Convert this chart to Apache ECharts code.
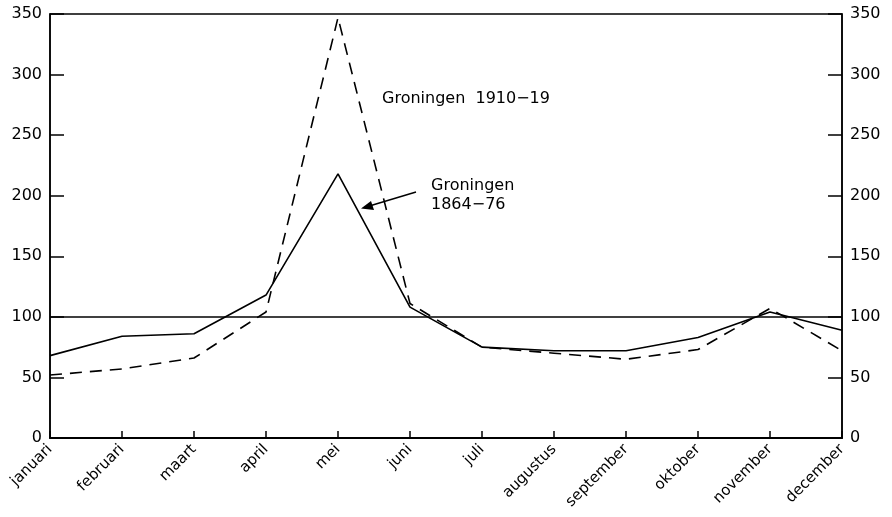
<!DOCTYPE html>
<html>
<head>
<meta charset="utf-8">
<script src="https://cdn.jsdelivr.net/npm/echarts@6/dist/echarts.min.js"></script>
<style>
  html, body { margin: 0; padding: 0; background: #fff; }
  #chart { width: 892px; height: 517px; }
</style>
</head>
<body>
<div id="chart"></div>
<script>
// months
const months = ['januari', 'februari', 'maart', 'april', 'mei', 'juni', 'juli',
  'augustus', 'september', 'oktober', 'november', 'december']
// Groningen 1864-76 (solid)
const groningen1864 = [68, 84, 86, 118, 218, 108, 75, 72, 72, 83, 104, 89]
// Groningen 1910-19 (dashed)
const groningen1910 = [52, 57, 66, 104, 347, 111, 75, 70, 65, 73, 107, 72]
const refValue = 100

const font = 'DejaVu Sans'
const chart = echarts.init(document.getElementById('chart'))

const yAxisBase = {
  type: 'value',
  min: 0,
  max: 350,
  interval: 50,
  axisLine: { show: true, lineStyle: { color: '#000', width: 1.5 } },
  axisTick: { show: true, inside: true, length: 14, lineStyle: { color: '#000', width: 1.5 } },
  splitLine: { show: false },
  axisLabel: { color: '#000', fontFamily: font, fontSize: 16, margin: 8 }
}

const option = {
  animation: false,
  backgroundColor: '#fff',
  grid: {
    left: 50, right: 50, top: 14, bottom: 79,
    show: true, borderColor: '#000', borderWidth: 1.5
  },
  xAxis: {
    type: 'category',
    data: months,
    boundaryGap: false,
    axisLine: { lineStyle: { color: '#000', width: 2 } },
    axisTick: { inside: true, length: 7, lineStyle: { color: '#000', width: 1.5 } },
    axisLabel: { color: '#000', fontFamily: font, fontSize: 15, rotate: 45, margin: 9, interval: 0 }
  },
  yAxis: [
    Object.assign({}, yAxisBase, { position: 'left' }),
    Object.assign({}, yAxisBase, { position: 'right' })
  ],
  series: [
    {
      name: 'Groningen 1864-76',
      type: 'line',
      data: groningen1864,
      symbol: 'none',
      lineStyle: { color: '#000', width: 1.6 },
      markLine: {
        silent: true,
        symbol: ['none', 'none'],
        label: { show: false },
        lineStyle: { color: '#000', width: 1.6, type: 'solid' },
        data: [{ yAxis: refValue }]
      }
    },
    {
      name: 'Groningen 1910-19',
      type: 'line',
      data: groningen1910,
      symbol: 'none',
      lineStyle: { color: '#000', width: 1.6, type: [12, 8] }
    }
  ],
  graphic: [
    {
      type: 'text', left: 382, top: 91,
      style: { text: 'Groningen  1910\u221219', fill: '#000', font: '16px "DejaVu Sans"' }
    },
    {
      type: 'text', left: 431, top: 176,
      style: { text: 'Groningen\n1864\u221276', fill: '#000', font: '16px "DejaVu Sans"', lineHeight: 19 }
    },
    {
      type: 'line',
      shape: { x1: 416, y1: 192, x2: 366, y2: 207 },
      style: { stroke: '#000', lineWidth: 1.5 }
    },
    {
      type: 'polygon',
      shape: { points: [[361, 208.5], [371, 201], [374, 210]] },
      style: { fill: '#000' }
    }
  ]
}
chart.setOption(option)
</script>
</body>
</html>
